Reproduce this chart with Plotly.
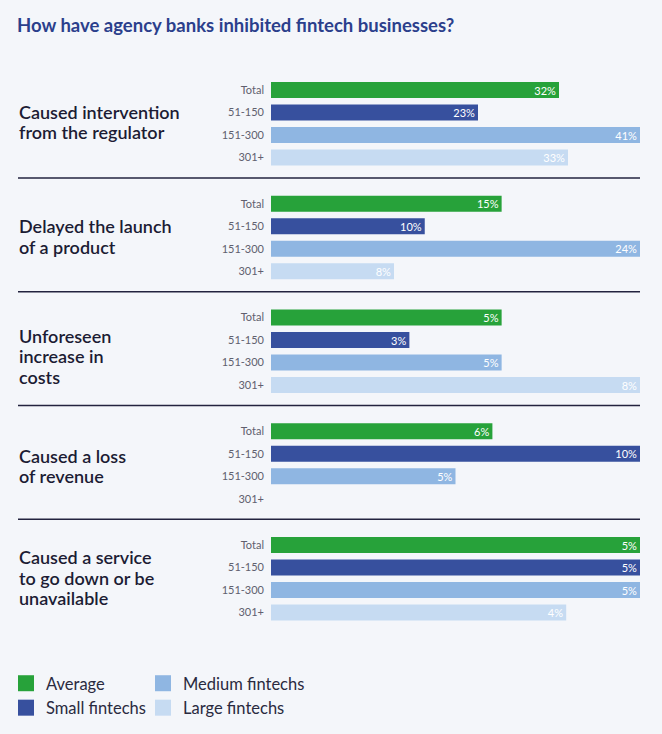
import plotly.graph_objects as go

# ---- data ----
questions = [
    "Caused intervention<br>from the regulator",
    "Delayed the launch<br>of a product",
    "Unforeseen<br>increase in<br>costs",
    "Caused a loss<br>of revenue",
    "Caused a service<br>to go down or be<br>unavailable",
]
segments = ["Total", "51-150", "151-300", "301+"]
average = [32, 15, 5, 6, 5]
small = [23, 10, 3, 10, 5]
medium = [41, 24, 5, 5, 5]
large = [33, 8, 8, None, 4]
series_names = ["Average", "Small fintechs", "Medium fintechs", "Large fintechs"]

# ---- style ----
W, H = 662, 734
BG = "#f4f6fa"
colors = ["#27a23a", "#37509e", "#8fb6e2", "#c6dbf2"]
FONT = "Lato"
X0, X1 = 271, 640
TOP0, STEP, PITCH = 90, 113.75, 22.5
LINE_H = 20.5
label_shift = [-2, -1, 5, 1, -1]

fig = go.Figure()
for i, q in enumerate(questions):
    vals = [average[i], small[i], medium[i], large[i]]
    n = "" if i == 0 else str(i + 1)
    fig.add_trace(go.Bar(
        x=vals, y=segments, orientation="h",
        marker=dict(color=colors, line=dict(width=0)),
        text=[f"{v}%" if v is not None else "" for v in vals],
        textposition="inside", insidetextanchor="end", constraintext="none",
        textfont=dict(family=FONT, size=11, color="white"),
        xaxis="x" + n, yaxis="y" + n, showlegend=False, hoverinfo="skip",
        cliponaxis=False,
    ))
    top = TOP0 + STEP * i - PITCH / 2
    bot = top + 4 * PITCH
    vmax = max(v for v in vals if v is not None)
    fig.layout["xaxis" + n] = dict(domain=[X0 / W, X1 / W], range=[0, vmax], visible=False,
                                   anchor="y" + n, fixedrange=True)
    fig.layout["yaxis" + n] = dict(domain=[1 - bot / H, 1 - top / H], anchor="x" + n,
                                   autorange="reversed", type="category",
                                   showgrid=False, zeroline=False, showline=False,
                                   ticks="", ticklabelstandoff=6, fixedrange=True,
                                   tickfont=dict(family=FONT, size=11, color="#60606e"))
    cy = TOP0 + STEP * i + 1.5 * PITCH + label_shift[i]
    lines = q.split("<br>")
    for j, ln in enumerate(lines):
        ly_ = cy + (j - (len(lines) - 1) / 2) * LINE_H
        fig.add_annotation(text=ln, xref="paper", yref="paper", x=17 / W, y=1 - ly_ / H,
                           xanchor="left", yanchor="middle", align="left", showarrow=False,
                           font=dict(family=FONT, size=18, color="#1c1c34", weight=600))
    if i < len(questions) - 1:
        ly = TOP0 + STEP * i + 3 * PITCH + 20.5
        fig.add_shape(type="line", xref="paper", yref="paper", x0=18 / W, x1=X1 / W,
                      y0=1 - ly / H, y1=1 - ly / H, line=dict(color="#23233f", width=1.5))

# legend-only markers
for k, name in enumerate(series_names):
    fig.add_trace(go.Scatter(
        x=[None], y=[None], mode="markers", name=name,
        marker=dict(symbol="square", size=16, color=colors[k]),
        legend="legend" if k < 2 else "legend2",
    ))

leg = dict(font=dict(family=FONT, size=16.5, color="#2a2a40"), bgcolor="rgba(0,0,0,0)",
           orientation="v", xanchor="left", yanchor="top", itemwidth=30,
           tracegroupgap=0)
fig.update_layout(
    width=W, height=H, margin=dict(l=0, r=0, t=0, b=0),
    paper_bgcolor=BG, plot_bgcolor=BG,
    bargap=0.29,
    title=dict(text="How have agency banks inhibited fintech businesses?",
               x=17 / W, xanchor="left", y=1 - 26 / H, yanchor="middle",
               font=dict(family=FONT, size=18.5, color="#2b3f8c", weight="bold")),
    legend=dict(leg, x=6 / W, y=1 - 666 / H),
    legend2=dict(leg, x=143 / W, y=1 - 666 / H),
)
fig.write_html("out.html", config={"displayModeBar": False},
               post_script="document.body.style.margin='0';")
